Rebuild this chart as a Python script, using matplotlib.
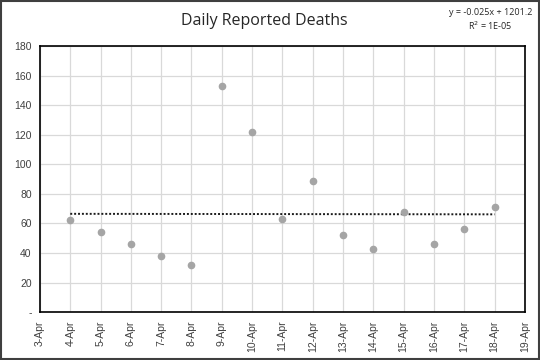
import matplotlib.pyplot as plt
import numpy as np
from matplotlib.patches import Rectangle

# --- data ---
days = np.array([4, 5, 6, 7, 8, 9, 10, 11, 12, 13, 14, 15, 16, 17, 18])
deaths = np.array([62, 54, 46, 38, 32, 153, 122, 63, 89, 52, 43, 68, 46, 56, 71])

tick_days = list(range(3, 20))
tick_labels = [f"{d}-Apr" for d in tick_days]
y_ticks = list(range(0, 181, 20))
y_labels = ['-'] + [str(v) for v in y_ticks[1:]]

# linear trend (Excel-style trendline)
slope, intercept = np.polyfit(days, deaths, 1)
trend = slope * days + intercept

plt.rcParams['font.family'] = ['Open Sans', 'DejaVu Sans']

fig = plt.figure(figsize=(5.4, 3.6), dpi=100)
ax = fig.add_axes([0.074, 0.133, 0.898, 0.739])

ax.plot(days, deaths, 'o', color='#a5a5a5', markersize=4.5, zorder=3)
ax.plot(days, trend, linestyle=(0, (1, 1)), color='#1a1a1a', linewidth=1.4, zorder=2)

ax.set_xlim(3, 19)
ax.set_ylim(0, 180)
ax.set_xticks(tick_days)
ax.set_xticklabels(tick_labels, rotation=90, fontsize=7.5, color='#404040',
                   family='Liberation Sans')
ax.set_yticks(y_ticks)
ax.set_yticklabels(y_labels, fontsize=7.5, color='#404040', family='Liberation Sans')
ax.tick_params(length=0, pad=6)
ax.grid(True, color='#d9d9d9', linewidth=0.9)
ax.set_axisbelow(True)
for s in ax.spines.values():
    s.set_color('black')
    s.set_linewidth(1.2)

fig.text(0.49, 0.943, 'Daily Reported Deaths', ha='center', va='center',
         fontsize=11.5, color='#262626')
fig.text(0.908, 0.945, 'y = -0.025x + 1201.2\nR$^2$ = 1E-05', ha='center', va='center',
         fontsize=6.5, color='#262626', linespacing=1.3)

fig.patches.append(Rectangle((0.002, 0.003), 0.996, 0.994, transform=fig.transFigure,
                             fill=False, edgecolor='#3f3f3f', linewidth=1.5))

fig.savefig('out.png', dpi=100)
